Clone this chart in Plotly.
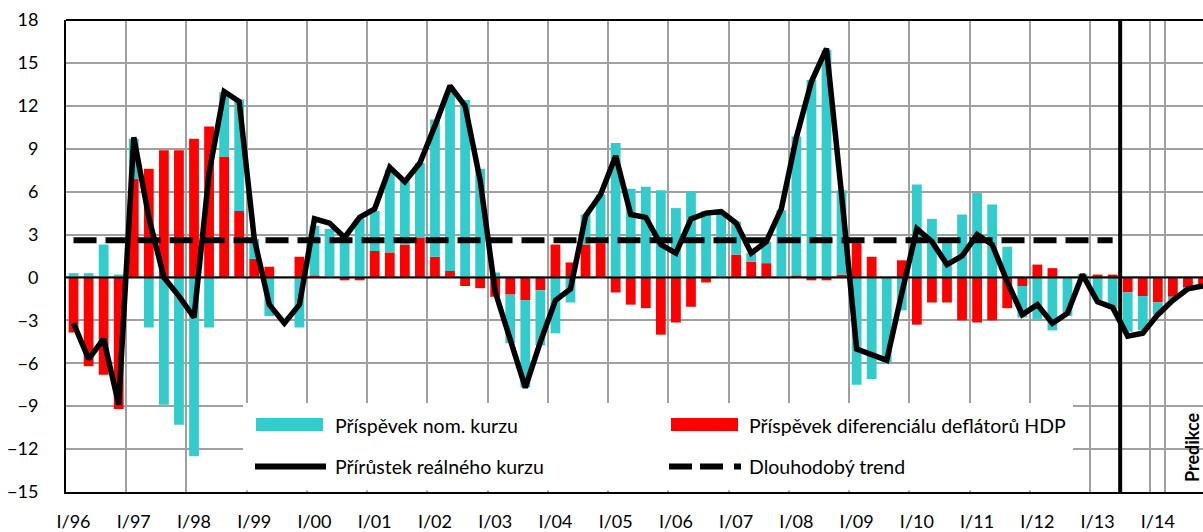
import plotly.graph_objects as go

# ---------------- data ----------------
years = ["96", "97", "98", "99", "00", "01", "02", "03", "04", "05",
         "06", "07", "08", "09", "10", "11", "12", "13", "14"]
roman = ["I", "II", "III", "IV"]
quarters = [f"{q}/{y}" for y in years for q in roman]

# contribution of nominal exchange rate (cyan)
nom = [0.3, 0.3, 2.3, 0.2,
       2.8, -3.5, -8.9, -10.3,
       -12.5, -3.5, 4.5, 7.8,
       1.4, -2.7, 0.0, -3.5,
       3.45, 3.4, 2.9, 4.1,
       2.8, 5.8, 4.5, 5.2,
       9.6, 12.6, 12.4, 7.6,
       0.35, -3.4, -6.1, -3.85,
       -3.9, -1.75, 2.1, 3.4,
       9.4, 6.2, 6.35, 6.1,
       4.85, 6.05, 4.65, 4.5,
       2.3, 0.6, 1.5, 4.7,
       9.7, 13.8, 15.9, 5.9,
       -7.5, -7.1, -6.0, -2.3,
       6.5, 4.1, 2.4, 4.4,
       5.9, 5.1, 2.15, -2.2,
       -2.9, -3.7, -2.7, 0.25,
       -1.6, -2.2, -2.75, -2.4,
       -0.85, -0.25, -0.05, 0.0]

# contribution of GDP deflator differential (red)
defl = [-3.85, -6.2, -6.8, -9.2,
        6.9, 7.6, 8.9, 8.9,
        9.7, 10.55, 8.45, 4.65,
        1.3, 0.75, 0.0, 1.45,
        0.15, 0.0, -0.2, -0.2,
        1.85, 1.75, 2.3, 2.8,
        1.45, 0.45, -0.6, -0.75,
        -1.35, -1.2, -1.6, -0.9,
        2.3, 1.05, 2.3, 2.4,
        -1.05, -1.9, -2.15, -4.0,
        -3.15, -2.05, -0.35, 0.0,
        1.6, 1.1, 1.0, 0.0,
        0.15, -0.2, -0.2, 0.2,
        2.4, 1.45, 0.0, 1.2,
        -3.3, -1.75, -1.75, -3.0,
        -3.15, -3.0, -2.15, -0.6,
        0.9, 0.65, 0.0, 0.0,
        0.2, 0.2, -1.05, -1.3,
        -1.75, -1.35, -0.7, -0.5]

# growth of real exchange rate (black line)
real = [-3.2, -5.7, -4.3, -8.9,
        9.8, 4.2, 0.0, -1.3,
        -2.8, 7.3, 13.0, 12.3,
        2.7, -1.9, -3.2, -1.9,
        4.1, 3.8, 2.8, 4.2,
        4.8, 7.7, 6.7, 8.0,
        10.6, 13.4, 12.0, 6.8,
        -1.0, -4.5, -7.7, -4.5,
        -1.6, -0.8, 4.3, 5.8,
        8.5, 4.4, 4.2, 2.3,
        1.7, 4.1, 4.5, 4.6,
        3.8, 1.7, 2.5, 4.8,
        9.8, 13.7, 16.0, 5.8,
        -5.0, -5.4, -5.8, -1.1,
        3.4, 2.5, 0.9, 1.5,
        3.0, 2.3, -0.3, -2.6,
        -1.9, -3.2, -2.5, 0.2,
        -1.7, -2.1, -4.1, -3.9,
        -2.6, -1.6, -0.8, -0.6]

trend_value = 2.6
trend_start, trend_end = "I/96", "II/13"
forecast_start = "III/13"

label_nom = "Příspěvek nom. kurzu"
label_defl = "Příspěvek diferenciálu deflátorů HDP"
label_real = "Přírůstek reálného kurzu"
label_trend = "Dlouhodobý trend"
label_pred = "Predikce"

CYAN = "#33CCCC"
RED = "#FF0000"
GRID = "#A0A0A0"
FONT = "Lato"
FS_TICK = 18
FS_LEG = 19.5

# ---------------- figure ----------------
W, H = 1203, 532
ML, MR, MT, MB = 66, 0, 20, 40
PW, PH = W - ML - MR, H - MT - MB


def px(x):
    return (x - ML) / PW


def py(y):
    return (H - MB - y) / PH


fig = go.Figure()
fig.add_trace(go.Bar(x=quarters, y=defl, name=label_defl,
                     marker=dict(color=RED, line=dict(width=0))))
fig.add_trace(go.Bar(x=quarters, y=nom, name=label_nom,
                     marker=dict(color=CYAN, line=dict(width=0))))
fig.add_trace(go.Scatter(x=[trend_start, trend_end], y=[trend_value, trend_value],
                         mode="lines", name=label_trend,
                         line=dict(color="black", width=6, dash="23px,9px")))
fig.add_trace(go.Scatter(x=quarters, y=real, mode="lines", name=label_real,
                         line=dict(color="black", width=5.5)))

pred_idx = quarters.index(forecast_start) - 0.5

shapes = [
    # zero line
    dict(type="line", xref="paper", yref="y", x0=0, x1=1, y0=0, y1=0,
         line=dict(color="black", width=2), layer="above"),
    # top border
    dict(type="line", xref="paper", yref="paper", x0=0, x1=1, y0=1, y1=1,
         line=dict(color="black", width=2), layer="above"),
    # forecast divider
    dict(type="line", xref="x", yref="paper", x0=pred_idx, x1=pred_idx, y0=0, y1=1,
         line=dict(color="black", width=4), layer="above"),
    # legend box
    dict(type="rect", xref="paper", yref="paper",
         x0=px(243), x1=px(1073), y0=py(490.5), y1=py(403),
         fillcolor="white", line=dict(width=0), layer="above"),
    # legend swatches
    dict(type="rect", xref="paper", yref="paper",
         x0=px(256), x1=px(323), y0=py(431), y1=py(418),
         fillcolor=CYAN, line=dict(width=0), layer="above"),
    dict(type="rect", xref="paper", yref="paper",
         x0=px(671), x1=px(738), y0=py(431), y1=py(418),
         fillcolor=RED, line=dict(width=0), layer="above"),
    dict(type="line", xref="paper", yref="paper",
         x0=px(255), x1=px(326), y0=py(466.5), y1=py(466.5),
         line=dict(color="black", width=6), layer="above"),
]
for a, b in [(669, 692), (700, 723), (734, 741)]:
    shapes.append(dict(type="line", xref="paper", yref="paper",
                       x0=px(a), x1=px(b), y0=py(466.5), y1=py(466.5),
                       line=dict(color="black", width=6), layer="above"))

annotations = []
for text, x, y in [(label_nom, 333, 425), (label_defl, 747, 425),
                   (label_real, 333, 466), (label_trend, 747, 466)]:
    annotations.append(dict(text=text, xref="paper", yref="paper",
                            x=px(x), y=py(y), xanchor="left", yanchor="middle",
                            showarrow=False, font=dict(family=FONT, size=FS_LEG, color="black")))
annotations.append(dict(text=f"<b>{label_pred}</b>", xref="paper", yref="paper",
                        x=px(1192), y=py(447), xanchor="center", yanchor="middle",
                        textangle=-90, showarrow=False,
                        font=dict(family=FONT, size=18, color="black")))

fig.update_layout(
    width=W, height=H,
    margin=dict(l=ML, r=MR, t=MT, b=MB, pad=0, autoexpand=False),
    barmode="relative", bargap=0.35,
    plot_bgcolor="white", paper_bgcolor="white",
    showlegend=False,
    font=dict(family=FONT, size=FS_TICK, color="black"),
    shapes=shapes, annotations=annotations,
)
fig.update_xaxes(
    type="category", categoryorder="array", categoryarray=quarters,
    tickmode="array", tickvals=quarters[::4], ticktext=quarters[::4],
    tickson="boundaries", ticks="", tickangle=0, automargin=False,
    showgrid=True, gridcolor=GRID, gridwidth=2,
    showline=True, linecolor="black", linewidth=2,
    range=[-0.5, 75.0], ticklabelstandoff=12,
    tickfont=dict(family=FONT, size=FS_TICK, color="black"),
)
fig.update_yaxes(
    range=[-15, 18], tick0=0, dtick=3, automargin=False,
    showgrid=True, gridcolor=GRID, gridwidth=2, zeroline=False,
    showline=True, linecolor="black", linewidth=2, ticks="",
    ticklabelstandoff=22,
    tickfont=dict(family=FONT, size=FS_TICK, color="black"),
)

fig.write_html(
    "out.html",
    config={"displayModeBar": False},
    post_script="document.body.style.margin='0px';document.body.style.overflow='hidden';",
)
